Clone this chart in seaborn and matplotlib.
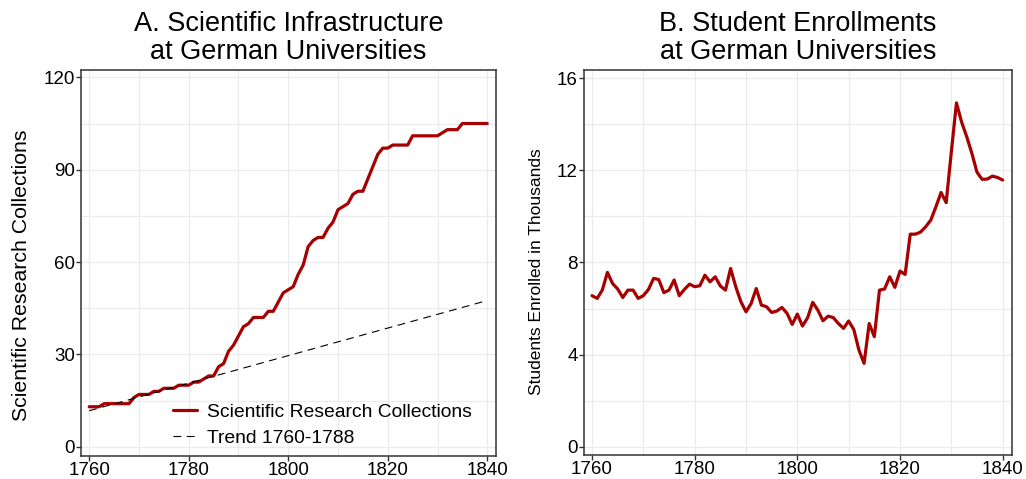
import seaborn as sns
import matplotlib.pyplot as plt
import numpy as np
import pandas as pd

# data
years = list(range(1760, 1841))

collections = [13, 13, 13, 14, 14, 14, 14, 14, 14, 16,
               17, 17, 17, 18, 18, 19, 19, 19, 20, 20,
               20, 21, 21, 22, 23, 23, 26, 27, 31, 33,
               36, 39, 40, 42, 42, 42, 44, 44, 47, 50,
               51, 52, 56, 59, 65, 67, 68, 68, 71, 73,
               77, 78, 79, 82, 83, 83, 87, 91, 95, 97,
               97, 98, 98, 98, 98, 101, 101, 101, 101, 101,
               101, 102, 103, 103, 103, 105, 105, 105, 105, 105,
               105]

trend_years = [1760, 1840]
trend_values = [11.7, 47.5]

enrollments = [6.56, 6.44, 6.80, 7.57, 7.09, 6.85, 6.48, 6.80, 6.80, 6.44,
               6.56, 6.83, 7.31, 7.26, 6.69, 6.80, 7.24, 6.56, 6.83, 7.06,
               6.95, 6.99, 7.45, 7.16, 7.38, 6.98, 6.80, 7.74, 6.95, 6.30,
               5.86, 6.22, 6.87, 6.15, 6.08, 5.83, 5.89, 6.05, 5.79, 5.31,
               5.76, 5.24, 5.60, 6.27, 5.93, 5.47, 5.67, 5.61, 5.35, 5.14,
               5.46, 5.09, 4.20, 3.62, 5.35, 4.78, 6.80, 6.85, 7.38, 6.92,
               7.63, 7.48, 9.23, 9.23, 9.32, 9.55, 9.84, 10.42, 11.04, 10.60,
               12.80, 14.93, 14.10, 13.46, 12.74, 11.92, 11.61, 11.62, 11.75, 11.69,
               11.58]

red = '#A60000'

sns.set_theme(style='whitegrid', rc={'grid.color': '#EBEBEB', 'grid.linewidth': 0.9,
                                     'axes.edgecolor': '#333333', 'axes.linewidth': 1.1,
                                     'text.color': 'black', 'axes.labelcolor': 'black',
                                     'xtick.color': 'black', 'ytick.color': 'black'})
plt.rcParams['font.family'] = ['Liberation Sans', 'DejaVu Sans']

fig = plt.figure(figsize=(10.26, 4.79), dpi=100)
ax1 = fig.add_axes([0.0787, 0.048, 0.4047, 0.806])
ax2 = fig.add_axes([0.569, 0.050, 0.417, 0.804])

df1 = pd.DataFrame({'year': years, 'value': collections})
dft = pd.DataFrame({'year': trend_years, 'value': trend_values})
df2 = pd.DataFrame({'year': years, 'value': enrollments})

sns.lineplot(data=df1, x='year', y='value', ax=ax1, color=red, linewidth=2.3,
             label='Scientific Research Collections')
sns.lineplot(data=dft, x='year', y='value', ax=ax1, color='black', linewidth=0.8,
             dashes=(7, 5), label='Trend 1760-1788')
sns.lineplot(data=df2, x='year', y='value', ax=ax2, color=red, linewidth=2.3)

ax1.set_title('A. Scientific Infrastructure\nat German Universities', fontsize=19.5, pad=8,
              linespacing=1.1)
ax2.set_title('B. Student Enrollments\nat German Universities', fontsize=19.5, pad=8,
              linespacing=1.1)
ax1.set_ylabel('Scientific Research Collections', fontsize=15.3)
ax2.set_ylabel('Students Enrolled in Thousands', fontsize=12.5)
ax1.yaxis.set_label_coords(-0.120, 0.469)
ax2.yaxis.set_label_coords(-0.094, 0.475)
ax1.set_xlabel('')
ax2.set_xlabel('')

ax1.set_xlim(1758.3, 1841.75)
ax1.set_ylim(-3.0, 122.4)
ax1.set_yticks([0, 30, 60, 90, 120])
ax1.set_yticks([15, 45, 75, 105], minor=True)
ax2.set_xlim(1758.4, 1841.75)
ax2.set_ylim(-0.36, 16.36)
ax2.set_yticks([0, 4, 8, 12, 16])
ax2.set_yticks([2, 6, 10, 14], minor=True)

for ax in (ax1, ax2):
    ax.set_xticks([1760, 1780, 1800, 1820, 1840])
    ax.set_xticks([1770, 1790, 1810, 1830], minor=True)
    ax.grid(True, which='both', color='#EBEBEB', linewidth=0.9)
    ax.tick_params(axis='both', which='major', labelsize=13.5, length=3.3, width=1,
                   color='#333333', bottom=True, left=True)
    ax.tick_params(axis='x', which='major', pad=1)
    ax.tick_params(axis='y', which='major', pad=1)
    ax.tick_params(axis='both', which='minor', length=0)
    for s in ax.spines.values():
        s.set_visible(True)
        s.set_color('#333333')

ax1.legend(loc='lower right', bbox_to_anchor=(0.985, -0.022), frameon=False, fontsize=13.9,
           handlelength=1.25, handletextpad=0.55, labelspacing=0.45)

fig.savefig('out.png', dpi=100)
